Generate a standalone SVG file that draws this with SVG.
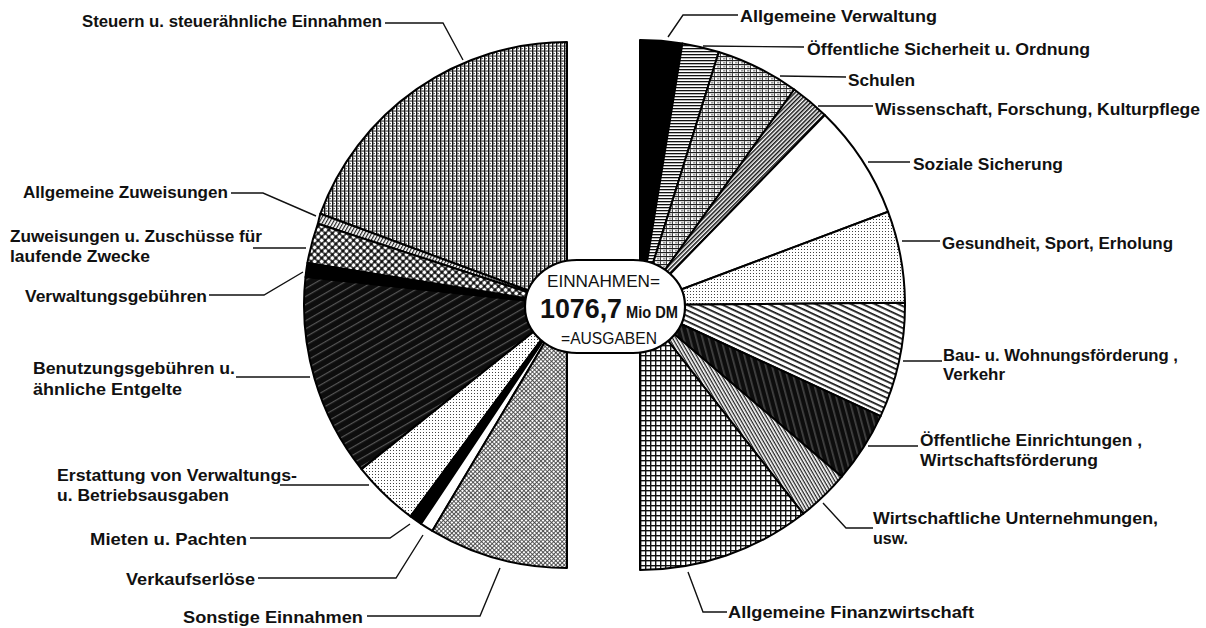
<svg xmlns="http://www.w3.org/2000/svg" width="1206" height="628" viewBox="0 0 1206 628">
<style>
.lbl{font-family:"Liberation Sans",Arial,sans-serif;font-size:17px;font-weight:bold;fill:#111}
.ctr{font-family:"Liberation Sans",Arial,sans-serif;fill:#111}
.w{stroke:#000;stroke-width:2;stroke-linejoin:round}
.ld{fill:none;stroke:#111;stroke-width:1.4}
</style>
<defs>
<pattern id="pSteuern" width="4" height="5" patternUnits="userSpaceOnUse"><rect width="4" height="5" fill="#fff"/><rect width="1.4" height="5" fill="#111"/><rect x="1.4" y="0.5" width="2.6" height="1.1" fill="#333"/><rect x="1.4" y="3" width="1.4" height="1.1" fill="#444"/></pattern>
<pattern id="pAllgZuw" width="3" height="3" patternUnits="userSpaceOnUse" patternTransform="rotate(-60)"><rect width="3" height="3" fill="#fff"/><rect width="3" height="1.2" fill="#222"/></pattern>
<pattern id="pZuweis" width="5" height="5" patternUnits="userSpaceOnUse" patternTransform="rotate(45)"><rect width="5" height="5" fill="#111"/><circle cx="2.5" cy="2.5" r="1.9" fill="#fff"/></pattern>
<pattern id="pBenutz" width="7" height="7" patternUnits="userSpaceOnUse" patternTransform="rotate(-30)"><rect width="7" height="7" fill="#0d0d0d"/><rect y="3" width="7" height="1.2" fill="#555"/></pattern>
<pattern id="pErst" width="3" height="3" patternUnits="userSpaceOnUse"><rect width="3" height="3" fill="#fff"/><rect width="1" height="1" fill="#444"/></pattern>
<pattern id="pSonst" width="3" height="3" patternUnits="userSpaceOnUse" patternTransform="rotate(45)"><rect width="3" height="3" fill="#fff"/><rect width="3" height="0.9" fill="#444"/><rect width="0.9" height="3" fill="#444"/></pattern>
<pattern id="pHlines" width="4" height="3" patternUnits="userSpaceOnUse"><rect width="4" height="3" fill="#fff"/><rect width="4" height="1.3" fill="#111"/></pattern>
<pattern id="pBrick" width="6" height="4" patternUnits="userSpaceOnUse"><rect width="6" height="4" fill="#fff"/><rect width="6" height="1.2" fill="#222"/><rect y="1.2" width="1" height="2.8" fill="#444"/><rect x="3" y="2.4" width="2.5" height="0.9" fill="#555"/></pattern>
<pattern id="pWiss" width="3" height="3" patternUnits="userSpaceOnUse" patternTransform="rotate(-45)"><rect width="3" height="3" fill="#fff"/><rect width="3" height="1.5" fill="#111"/></pattern>
<pattern id="pGes" width="3" height="3" patternUnits="userSpaceOnUse"><rect width="3" height="3" fill="#fff"/><rect width="1" height="1" fill="#444"/></pattern>
<pattern id="pBau" width="5" height="5" patternUnits="userSpaceOnUse" patternTransform="rotate(25)"><rect width="5" height="5" fill="#fff"/><rect width="5" height="1.7" fill="#111"/></pattern>
<pattern id="pOeff" width="6" height="6" patternUnits="userSpaceOnUse" patternTransform="rotate(75)"><rect width="6" height="6" fill="#0d0d0d"/><rect y="2.5" width="6" height="1.2" fill="#5a5a5a"/></pattern>
<pattern id="pWirt" width="3" height="3" patternUnits="userSpaceOnUse" patternTransform="rotate(60)"><rect width="3" height="3" fill="#fff"/><rect width="3" height="1.3" fill="#222"/></pattern>
<pattern id="pGrid" width="5" height="5" patternUnits="userSpaceOnUse"><rect width="5" height="5" fill="#fff"/><rect width="5" height="1.4" fill="#111"/><rect width="1.4" height="5" fill="#111"/></pattern>
</defs>
<rect width="1206" height="628" fill="#fff"/>

<g id="einnahmen">
<path id="w-steuern" class="w" fill="url(#pSteuern)" d="M567,305 L567,42 A263,263 0 0 0 320.3,213.8 Z"/>
<path id="w-allgzuw" class="w" fill="url(#pAllgZuw)" d="M567,305 L320.3,213.8 A263,263 0 0 0 317.9,223.7 Z"/>
<path id="w-zuweis" class="w" fill="url(#pZuweis)" d="M567,305 L317.9,223.7 A263,263 0 0 0 307.4,262.9 Z"/>
<path id="w-verwgeb" class="w" fill="#000" d="M567,305 L307.4,262.9 A263,263 0 0 0 305.5,277 Z"/>
<path id="w-benutz" class="w" fill="url(#pBenutz)" d="M567,305 L305.5,277 A263,263 0 0 0 361.5,469.1 Z"/>
<path id="w-erstatt" class="w" fill="url(#pErst)" d="M567,305 L361.5,469.1 A263,263 0 0 0 410.6,516.4 Z"/>
<path id="w-mieten" class="w" fill="#000" d="M567,305 L410.6,516.4 A263,263 0 0 0 421.1,523.8 Z"/>
<path id="w-verkauf" class="w" fill="#fff" d="M567,305 L421.1,523.8 A263,263 0 0 0 432.3,530.9 Z"/>
<path id="w-sonst" class="w" fill="url(#pSonst)" d="M567,305 L432.3,530.9 A263,263 0 0 0 567,568 Z"/>
</g>

<g id="ausgaben">
<path id="w-allgverw" class="w" fill="#000" d="M640,305 L640,40 A265,265 0 0 1 682.4,43.4 Z"/>
<path id="w-oeffsich" class="w" fill="url(#pHlines)" d="M640,305 L682.4,43.4 A265,265 0 0 1 718.8,52 Z"/>
<path id="w-schulen" class="w" fill="url(#pBrick)" d="M640,305 L718.8,52 A265,265 0 0 1 794.3,89.5 Z"/>
<path id="w-wiss" class="w" fill="url(#pWiss)" d="M640,305 L794.3,89.5 A265,265 0 0 1 824.8,115 Z"/>
<path id="w-sozial" class="w" fill="#fff" d="M640,305 L824.8,115 A265,265 0 0 1 888.1,211.8 Z"/>
<path id="w-gesund" class="w" fill="url(#pGes)" d="M640,305 L888.1,211.8 A265,265 0 0 1 905,302.7 Z"/>
<path id="w-bau" class="w" fill="url(#pBau)" d="M640,305 L905,302.7 A265,265 0 0 1 880.6,416.2 Z"/>
<path id="w-oeffein" class="w" fill="url(#pOeff)" d="M640,305 L880.6,416.2 A265,265 0 0 1 841.8,476.7 Z"/>
<path id="w-wirt" class="w" fill="url(#pWirt)" d="M640,305 L841.8,476.7 A265,265 0 0 1 803.2,513.8 Z"/>
<path id="w-finanz" class="w" fill="url(#pGrid)" d="M640,305 L803.2,513.8 A265,265 0 0 1 640,570 Z"/>
</g>

<g id="center">
<rect x="525" y="260" width="160" height="93" rx="52" ry="46" fill="#fff" stroke="#000" stroke-width="2.2"/>
<text class="ctr" x="547" y="287" font-size="16" textLength="113" lengthAdjust="spacingAndGlyphs">EINNAHMEN=</text>
<text class="ctr" x="540" y="318" font-size="27" font-weight="bold" textLength="82" lengthAdjust="spacingAndGlyphs">1076,7</text>
<text class="ctr" x="626" y="318" font-size="16" font-weight="bold" textLength="52" lengthAdjust="spacingAndGlyphs">Mio DM</text>
<text class="ctr" x="561" y="344" font-size="16" textLength="96" lengthAdjust="spacingAndGlyphs">=AUSGABEN</text>
</g>

<g id="connectors">
<polyline class="ld" points="385,23 443,23 463,60"/>
<polyline class="ld" points="231,193 263,193 316,216"/>
<polyline class="ld" points="253,248 306,248"/>
<polyline class="ld" points="209,295 264,295 303,272"/>
<polyline class="ld" points="236,377 310,377"/>
<polyline class="ld" points="280,485 369,485"/>
<polyline class="ld" points="250,538 390,538 410,524"/>
<polyline class="ld" points="258,578 396,578 423,535"/>
<polyline class="ld" points="367,616 480,616 500,568"/>
<polyline class="ld" points="738,15 683,15 668,37"/>
<polyline class="ld" points="804,47 703,46"/>
<polyline class="ld" points="846,77 780,76"/>
<polyline class="ld" points="873,106 818,106"/>
<polyline class="ld" points="910,162 868,162"/>
<polyline class="ld" points="940,241 902,241"/>
<polyline class="ld" points="942,361 903,361"/>
<polyline class="ld" points="918,446 868,446"/>
<polyline class="ld" points="873,528 846,528 823,503"/>
<polyline class="ld" points="727,612 703,612 688,572"/>
</g>

<g id="labels-left">
<text id="l-steuern" class="lbl" x="82" y="27" textLength="300" lengthAdjust="spacingAndGlyphs">Steuern u. steuerähnliche Einnahmen</text>
<text id="l-allgzuw" class="lbl" x="23" y="198" textLength="205" lengthAdjust="spacingAndGlyphs">Allgemeine Zuweisungen</text>
<g id="l-zuweis"><text class="lbl" x="10" y="242" textLength="252" lengthAdjust="spacingAndGlyphs">Zuweisungen u. Zuschüsse für</text><text class="lbl" x="10" y="262" textLength="140" lengthAdjust="spacingAndGlyphs">laufende Zwecke</text></g>
<text id="l-verwgeb" class="lbl" x="25" y="302" textLength="182" lengthAdjust="spacingAndGlyphs">Verwaltungsgebühren</text>
<g id="l-benutz"><text class="lbl" x="33" y="374" textLength="202" lengthAdjust="spacingAndGlyphs">Benutzungsgebühren u.</text><text class="lbl" x="33" y="395" textLength="149" lengthAdjust="spacingAndGlyphs">ähnliche Entgelte</text></g>
<g id="l-erstatt"><text class="lbl" x="57" y="481" textLength="240" lengthAdjust="spacingAndGlyphs">Erstattung von Verwaltungs-</text><text class="lbl" x="57" y="501" textLength="172" lengthAdjust="spacingAndGlyphs">u. Betriebsausgaben</text></g>
<text id="l-mieten" class="lbl" x="90" y="545" textLength="157" lengthAdjust="spacingAndGlyphs">Mieten u. Pachten</text>
<text id="l-verkauf" class="lbl" x="126" y="585" textLength="129" lengthAdjust="spacingAndGlyphs">Verkaufserlöse</text>
<text id="l-sonst" class="lbl" x="183" y="623" textLength="180" lengthAdjust="spacingAndGlyphs">Sonstige Einnahmen</text>
</g>

<g id="labels-right">
<text id="l-allgverw" class="lbl" x="740" y="22" textLength="197" lengthAdjust="spacingAndGlyphs">Allgemeine Verwaltung</text>
<text id="l-oeffsich" class="lbl" x="807" y="55" textLength="283" lengthAdjust="spacingAndGlyphs">Öffentliche Sicherheit u. Ordnung</text>
<text id="l-schulen" class="lbl" x="848" y="86" textLength="67" lengthAdjust="spacingAndGlyphs">Schulen</text>
<text id="l-wiss" class="lbl" x="875" y="115" textLength="325" lengthAdjust="spacingAndGlyphs">Wissenschaft, Forschung, Kulturpflege</text>
<text id="l-sozial" class="lbl" x="913" y="170" textLength="150" lengthAdjust="spacingAndGlyphs">Soziale Sicherung</text>
<text id="l-gesund" class="lbl" x="942" y="249" textLength="231" lengthAdjust="spacingAndGlyphs">Gesundheit, Sport, Erholung</text>
<g id="l-bau"><text class="lbl" x="943" y="361" textLength="235" lengthAdjust="spacingAndGlyphs">Bau- u. Wohnungsförderung ,</text><text class="lbl" x="943" y="380" textLength="62" lengthAdjust="spacingAndGlyphs">Verkehr</text></g>
<g id="l-oeffein"><text class="lbl" x="920" y="446" textLength="222" lengthAdjust="spacingAndGlyphs">Öffentliche Einrichtungen ,</text><text class="lbl" x="920" y="466" textLength="178" lengthAdjust="spacingAndGlyphs">Wirtschaftsförderung</text></g>
<g id="l-wirt"><text class="lbl" x="873" y="524" textLength="285" lengthAdjust="spacingAndGlyphs">Wirtschaftliche Unternehmungen,</text><text class="lbl" x="873" y="544" textLength="35" lengthAdjust="spacingAndGlyphs">usw.</text></g>
<text id="l-finanz" class="lbl" x="728" y="618" textLength="246" lengthAdjust="spacingAndGlyphs">Allgemeine Finanzwirtschaft</text>
</g>
</svg>
